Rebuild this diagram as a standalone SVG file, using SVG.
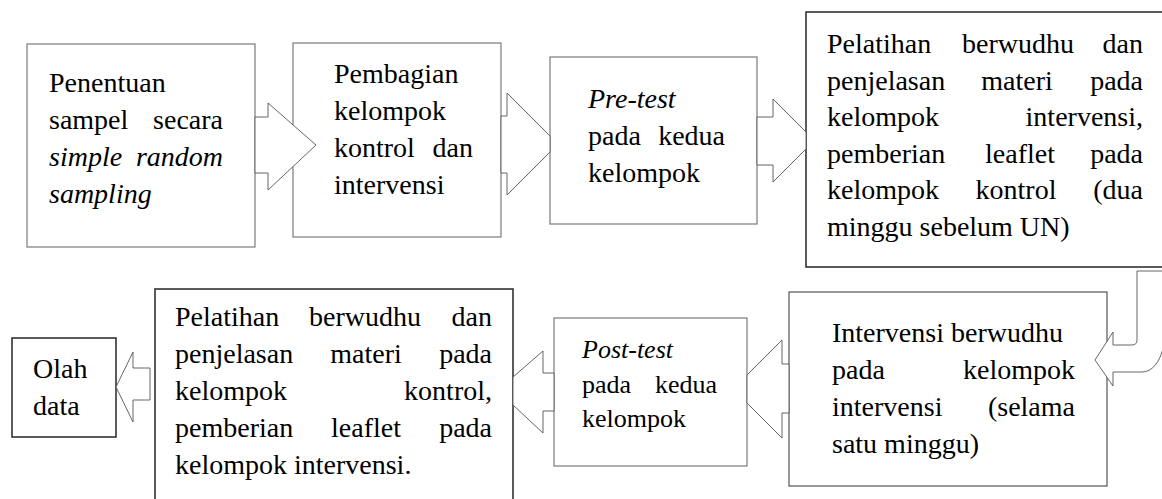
<svg xmlns="http://www.w3.org/2000/svg" width="1162" height="499" viewBox="0 0 1162 499">
<style>
  .box{fill:#fff;stroke:#7a7a7a;stroke-width:1.2}
  .dark{fill:#fff;stroke:#333;stroke-width:1.6}
  .mid{fill:#fff;stroke:#555;stroke-width:1.2}
  text{font-family:"Liberation Serif","Times New Roman",serif;font-size:28px;fill:#000}
  .it{font-style:italic}
  .sm{font-size:26px}
  .e{text-anchor:end}
  .m{text-anchor:middle}
  .arr{fill:#fff;stroke:#555;stroke-width:0.9;stroke-linejoin:miter}
</style>
<rect width="1162" height="499" fill="#fff"/>
<g id="node-sampel">
  <rect class="box" x="27" y="44" width="228" height="203"/>
  <text x="49" y="92">Penentuan</text>
  <text x="49" y="129">sampel</text><text class="e" x="223" y="129">secara</text>
  <text class="it" x="49" y="166">simple</text><text class="it e" x="223" y="166">random</text>
  <text class="it" x="49" y="203">sampling</text>
</g>
<g id="node-pembagian">
  <rect class="box" x="293" y="43" width="208" height="194"/>
  <text x="334" y="83">Pembagian</text>
  <text x="334" y="120">kelompok</text>
  <text x="334" y="157">kontrol</text><text class="e" x="473" y="157">dan</text>
  <text x="334" y="194">intervensi</text>
</g>
<g id="node-pretest">
  <rect class="box" x="550" y="57" width="207" height="167"/>
  <text class="it" x="588" y="108">Pre-test</text>
  <text x="588" y="145">pada</text><text class="e" x="725" y="145">kedua</text>
  <text x="588" y="182">kelompok</text>
</g>
<g id="node-pelatihan1">
  <rect class="dark" x="806" y="12" width="400" height="255"/>
  <text x="827" y="53">Pelatihan</text><text class="m" x="1018" y="53">berwudhu</text><text class="e" x="1143" y="53">dan</text>
  <text x="827" y="89.5">penjelasan</text><text class="m" x="1017" y="89.5">materi</text><text class="e" x="1143" y="89.5">pada</text>
  <text x="827" y="126">kelompok</text><text class="e" x="1143" y="126">intervensi,</text>
  <text x="827" y="162.5">pemberian</text><text class="m" x="1020" y="162.5">leaflet</text><text class="e" x="1143" y="162.5">pada</text>
  <text x="827" y="199">kelompok</text><text class="m" x="1016" y="199">kontrol</text><text class="e" x="1143" y="199">(dua</text>
  <text x="827" y="235.5">minggu sebelum UN)</text>
</g>
<g id="node-intervensi">
  <rect class="mid" x="789" y="292" width="318" height="194"/>
  <text x="832" y="342">Intervensi berwudhu</text>
  <text x="832" y="379">pada</text><text class="e" x="1075" y="379">kelompok</text>
  <text x="832" y="416">intervensi</text><text class="e" x="1075" y="416">(selama</text>
  <text x="832" y="453">satu minggu)</text>
</g>
<g id="node-posttest">
  <rect class="box" x="554" y="318" width="193" height="148"/>
  <text class="it sm" x="582" y="358">Post-test</text>
  <text class="sm" x="582" y="393">pada</text><text class="sm e" x="717" y="393">kedua</text>
  <text class="sm" x="582" y="427">kelompok</text>
</g>
<g id="node-pelatihan2">
  <rect class="dark" x="155" y="289" width="358" height="250"/>
  <text x="175" y="326">Pelatihan</text><text class="m" x="365" y="326">berwudhu</text><text class="e" x="492" y="326">dan</text>
  <text x="175" y="363">penjelasan</text><text class="m" x="366" y="363">materi</text><text class="e" x="492" y="363">pada</text>
  <text x="175" y="400">kelompok</text><text class="e" x="492" y="400">kontrol,</text>
  <text x="175" y="437">pemberian</text><text class="m" x="366" y="437">leaflet</text><text class="e" x="492" y="437">pada</text>
  <text x="175" y="474">kelompok intervensi.</text>
</g>
<g id="node-olah">
  <rect class="dark" x="12" y="338" width="104" height="99"/>
  <text x="33" y="378">Olah</text>
  <text x="33" y="415">data</text>
</g>
<g id="connectors">
  <polygon class="arr" points="255,117 268,117 268,103 316,145 268,190 268,173 255,173"/>
  <polygon class="arr" points="501,116 507,116 507,93 550,136 550,152 507,195 507,173 501,173"/>
  <polygon class="arr" points="757,117 773,117 773,99 806,132 806,149 773,182 773,165 757,165"/>
  <path class="arr" d="M1175,271 L1137,271 L1137,340 Q1137,345 1132,345 L1113,345 L1113,332 L1095,360 L1113,386 L1113,372 L1142,372 C1152,372 1160,362 1163,348 L1175,348 Z"/>
  <polygon class="arr" points="789,364 782,364 782,340 747,375 747,403 782,438 782,413 789,413"/>
  <polygon class="arr" points="554,373 543,373 543,351 513,377 513,405 543,433 543,411 554,411"/>
  <polygon class="arr" points="150,368 133,368 133,352 116,387 133,422 133,400 150,400"/>
</g>
</svg>
